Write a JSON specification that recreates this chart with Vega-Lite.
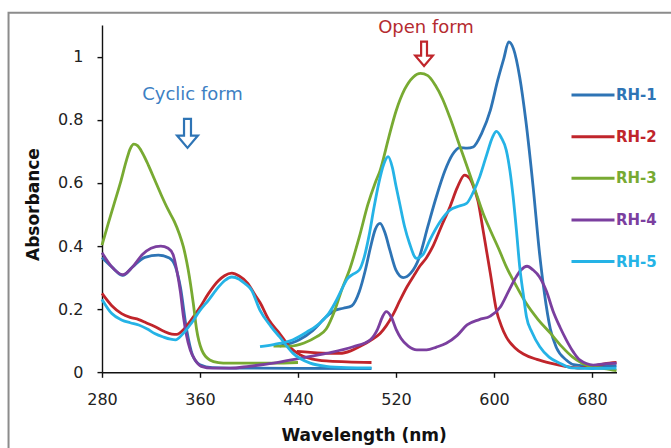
{
  "$schema": "https://vega.github.io/schema/vega-lite/v6.json",
  "width": 514.5,
  "height": 347.2,
  "autosize": {"type": "none"},
  "padding": {"left": 102, "top": 25.1, "right": 54.5, "bottom": 75.7},
  "background": "white",
  "config": {
    "view": {"stroke": null},
    "axis": {
      "grid": false,
      "domainColor": "#111",
      "domainWidth": 1.4,
      "tickColor": "#111",
      "tickWidth": 1.4,
      "tickSize": 5,
      "labelFlush": false,
      "labelFont": "DejaVu Sans",
      "labelFontSize": 16,
      "labelColor": "#222",
      "labelPadding": 14,
      "titleFont": "DejaVu Sans",
      "titleFontSize": 17,
      "titleFontWeight": "bold",
      "titleColor": "#111"
    }
  },
  "datasets": {
    "spectra": [
      {"series": "RH-1", "part": "a", "wl": 280, "abs": 0.364},
      {"series": "RH-1", "part": "a", "wl": 288, "abs": 0.334},
      {"series": "RH-1", "part": "a", "wl": 297, "abs": 0.307},
      {"series": "RH-1", "part": "a", "wl": 305, "abs": 0.334},
      {"series": "RH-1", "part": "a", "wl": 315, "abs": 0.364},
      {"series": "RH-1", "part": "a", "wl": 326, "abs": 0.371},
      {"series": "RH-1", "part": "a", "wl": 335, "abs": 0.362},
      {"series": "RH-1", "part": "a", "wl": 340, "abs": 0.334},
      {"series": "RH-1", "part": "a", "wl": 344, "abs": 0.27},
      {"series": "RH-1", "part": "a", "wl": 349, "abs": 0.137},
      {"series": "RH-1", "part": "a", "wl": 354, "abs": 0.053},
      {"series": "RH-1", "part": "a", "wl": 360, "abs": 0.024},
      {"series": "RH-1", "part": "a", "wl": 370, "abs": 0.015},
      {"series": "RH-1", "part": "a", "wl": 400, "abs": 0.013},
      {"series": "RH-1", "part": "a", "wl": 500, "abs": 0.012},
      {"series": "RH-1", "part": "b", "wl": 425, "abs": 0.083},
      {"series": "RH-1", "part": "b", "wl": 441, "abs": 0.103},
      {"series": "RH-1", "part": "b", "wl": 452, "abs": 0.132},
      {"series": "RH-1", "part": "b", "wl": 463, "abs": 0.176},
      {"series": "RH-1", "part": "b", "wl": 470, "abs": 0.196},
      {"series": "RH-1", "part": "b", "wl": 477, "abs": 0.203},
      {"series": "RH-1", "part": "b", "wl": 484, "abs": 0.211},
      {"series": "RH-1", "part": "b", "wl": 490, "abs": 0.255},
      {"series": "RH-1", "part": "b", "wl": 495, "abs": 0.324},
      {"series": "RH-1", "part": "b", "wl": 499, "abs": 0.393},
      {"series": "RH-1", "part": "b", "wl": 503, "abs": 0.452},
      {"series": "RH-1", "part": "b", "wl": 507, "abs": 0.472},
      {"series": "RH-1", "part": "b", "wl": 511, "abs": 0.442},
      {"series": "RH-1", "part": "b", "wl": 515, "abs": 0.387},
      {"series": "RH-1", "part": "b", "wl": 520, "abs": 0.324},
      {"series": "RH-1", "part": "b", "wl": 526, "abs": 0.3},
      {"series": "RH-1", "part": "b", "wl": 532, "abs": 0.314},
      {"series": "RH-1", "part": "b", "wl": 539, "abs": 0.364},
      {"series": "RH-1", "part": "b", "wl": 546, "abs": 0.462},
      {"series": "RH-1", "part": "b", "wl": 553, "abs": 0.557},
      {"series": "RH-1", "part": "b", "wl": 560, "abs": 0.639},
      {"series": "RH-1", "part": "b", "wl": 566, "abs": 0.689},
      {"series": "RH-1", "part": "b", "wl": 572, "abs": 0.712},
      {"series": "RH-1", "part": "b", "wl": 578, "abs": 0.71},
      {"series": "RH-1", "part": "b", "wl": 583, "abs": 0.714},
      {"series": "RH-1", "part": "b", "wl": 590, "abs": 0.758},
      {"series": "RH-1", "part": "b", "wl": 597, "abs": 0.83},
      {"series": "RH-1", "part": "b", "wl": 603, "abs": 0.925},
      {"series": "RH-1", "part": "b", "wl": 608, "abs": 0.994},
      {"series": "RH-1", "part": "b", "wl": 612, "abs": 1.047},
      {"series": "RH-1", "part": "b", "wl": 616, "abs": 1.024},
      {"series": "RH-1", "part": "b", "wl": 621, "abs": 0.935},
      {"series": "RH-1", "part": "b", "wl": 626, "abs": 0.797},
      {"series": "RH-1", "part": "b", "wl": 632, "abs": 0.585},
      {"series": "RH-1", "part": "b", "wl": 637, "abs": 0.383},
      {"series": "RH-1", "part": "b", "wl": 641, "abs": 0.255},
      {"series": "RH-1", "part": "b", "wl": 646, "abs": 0.137},
      {"series": "RH-1", "part": "b", "wl": 651, "abs": 0.078},
      {"series": "RH-1", "part": "b", "wl": 659, "abs": 0.039},
      {"series": "RH-1", "part": "b", "wl": 665, "abs": 0.024},
      {"series": "RH-1", "part": "b", "wl": 680, "abs": 0.019},
      {"series": "RH-1", "part": "b", "wl": 700, "abs": 0.021},

      {"series": "RH-2", "part": "a", "wl": 280, "abs": 0.25},
      {"series": "RH-2", "part": "a", "wl": 288, "abs": 0.211},
      {"series": "RH-2", "part": "a", "wl": 296, "abs": 0.186},
      {"series": "RH-2", "part": "a", "wl": 303, "abs": 0.174},
      {"series": "RH-2", "part": "a", "wl": 310, "abs": 0.167},
      {"series": "RH-2", "part": "a", "wl": 316, "abs": 0.157},
      {"series": "RH-2", "part": "a", "wl": 323, "abs": 0.145},
      {"series": "RH-2", "part": "a", "wl": 330, "abs": 0.131},
      {"series": "RH-2", "part": "a", "wl": 337, "abs": 0.121},
      {"series": "RH-2", "part": "a", "wl": 341, "abs": 0.12},
      {"series": "RH-2", "part": "a", "wl": 347, "abs": 0.137},
      {"series": "RH-2", "part": "a", "wl": 353, "abs": 0.167},
      {"series": "RH-2", "part": "a", "wl": 360, "abs": 0.206},
      {"series": "RH-2", "part": "a", "wl": 367, "abs": 0.25},
      {"series": "RH-2", "part": "a", "wl": 375, "abs": 0.29},
      {"series": "RH-2", "part": "a", "wl": 380, "abs": 0.306},
      {"series": "RH-2", "part": "a", "wl": 386, "abs": 0.314},
      {"series": "RH-2", "part": "a", "wl": 392, "abs": 0.305},
      {"series": "RH-2", "part": "a", "wl": 399, "abs": 0.282},
      {"series": "RH-2", "part": "a", "wl": 405, "abs": 0.245},
      {"series": "RH-2", "part": "a", "wl": 409, "abs": 0.221},
      {"series": "RH-2", "part": "a", "wl": 416, "abs": 0.167},
      {"series": "RH-2", "part": "a", "wl": 425, "abs": 0.123},
      {"series": "RH-2", "part": "a", "wl": 433, "abs": 0.081},
      {"series": "RH-2", "part": "a", "wl": 442, "abs": 0.055},
      {"series": "RH-2", "part": "a", "wl": 452, "abs": 0.042},
      {"series": "RH-2", "part": "a", "wl": 463, "abs": 0.036},
      {"series": "RH-2", "part": "a", "wl": 480, "abs": 0.033},
      {"series": "RH-2", "part": "a", "wl": 500, "abs": 0.031},
      {"series": "RH-2", "part": "b", "wl": 439, "abs": 0.066},
      {"series": "RH-2", "part": "b", "wl": 450, "abs": 0.063},
      {"series": "RH-2", "part": "b", "wl": 460, "abs": 0.061},
      {"series": "RH-2", "part": "b", "wl": 474, "abs": 0.06},
      {"series": "RH-2", "part": "b", "wl": 483, "abs": 0.068},
      {"series": "RH-2", "part": "b", "wl": 490, "abs": 0.081},
      {"series": "RH-2", "part": "b", "wl": 500, "abs": 0.103},
      {"series": "RH-2", "part": "b", "wl": 507, "abs": 0.123},
      {"series": "RH-2", "part": "b", "wl": 512, "abs": 0.147},
      {"series": "RH-2", "part": "b", "wl": 518, "abs": 0.186},
      {"series": "RH-2", "part": "b", "wl": 523, "abs": 0.226},
      {"series": "RH-2", "part": "b", "wl": 529, "abs": 0.271},
      {"series": "RH-2", "part": "b", "wl": 535, "abs": 0.309},
      {"series": "RH-2", "part": "b", "wl": 540, "abs": 0.339},
      {"series": "RH-2", "part": "b", "wl": 545, "abs": 0.364},
      {"series": "RH-2", "part": "b", "wl": 550, "abs": 0.398},
      {"series": "RH-2", "part": "b", "wl": 557, "abs": 0.462},
      {"series": "RH-2", "part": "b", "wl": 564, "abs": 0.524},
      {"series": "RH-2", "part": "b", "wl": 570, "abs": 0.585},
      {"series": "RH-2", "part": "b", "wl": 576, "abs": 0.625},
      {"series": "RH-2", "part": "b", "wl": 580, "abs": 0.615},
      {"series": "RH-2", "part": "b", "wl": 584, "abs": 0.58},
      {"series": "RH-2", "part": "b", "wl": 587, "abs": 0.541},
      {"series": "RH-2", "part": "b", "wl": 591, "abs": 0.452},
      {"series": "RH-2", "part": "b", "wl": 594, "abs": 0.383},
      {"series": "RH-2", "part": "b", "wl": 597, "abs": 0.314},
      {"series": "RH-2", "part": "b", "wl": 602, "abs": 0.196},
      {"series": "RH-2", "part": "b", "wl": 606, "abs": 0.147},
      {"series": "RH-2", "part": "b", "wl": 610, "abs": 0.112},
      {"series": "RH-2", "part": "b", "wl": 617, "abs": 0.078},
      {"series": "RH-2", "part": "b", "wl": 624, "abs": 0.058},
      {"series": "RH-2", "part": "b", "wl": 635, "abs": 0.041},
      {"series": "RH-2", "part": "b", "wl": 646, "abs": 0.029},
      {"series": "RH-2", "part": "b", "wl": 658, "abs": 0.019},
      {"series": "RH-2", "part": "b", "wl": 670, "abs": 0.013},
      {"series": "RH-2", "part": "b", "wl": 680, "abs": 0.019},
      {"series": "RH-2", "part": "b", "wl": 690, "abs": 0.027},
      {"series": "RH-2", "part": "b", "wl": 700, "abs": 0.031},

      {"series": "RH-3", "part": "a", "wl": 280, "abs": 0.403},
      {"series": "RH-3", "part": "a", "wl": 285, "abs": 0.47},
      {"series": "RH-3", "part": "a", "wl": 290, "abs": 0.535},
      {"series": "RH-3", "part": "a", "wl": 295, "abs": 0.6},
      {"series": "RH-3", "part": "a", "wl": 300, "abs": 0.672},
      {"series": "RH-3", "part": "a", "wl": 303, "abs": 0.708},
      {"series": "RH-3", "part": "a", "wl": 306, "abs": 0.723},
      {"series": "RH-3", "part": "a", "wl": 309, "abs": 0.718},
      {"series": "RH-3", "part": "a", "wl": 313, "abs": 0.695},
      {"series": "RH-3", "part": "a", "wl": 318, "abs": 0.655},
      {"series": "RH-3", "part": "a", "wl": 323, "abs": 0.61},
      {"series": "RH-3", "part": "a", "wl": 328, "abs": 0.565},
      {"series": "RH-3", "part": "a", "wl": 334, "abs": 0.515},
      {"series": "RH-3", "part": "a", "wl": 339, "abs": 0.478},
      {"series": "RH-3", "part": "a", "wl": 343, "abs": 0.44},
      {"series": "RH-3", "part": "a", "wl": 346.4, "abs": 0.398},
      {"series": "RH-3", "part": "a", "wl": 350.4, "abs": 0.324},
      {"series": "RH-3", "part": "a", "wl": 354.5, "abs": 0.219},
      {"series": "RH-3", "part": "a", "wl": 357.3, "abs": 0.134},
      {"series": "RH-3", "part": "a", "wl": 361.4, "abs": 0.071},
      {"series": "RH-3", "part": "a", "wl": 368, "abs": 0.039},
      {"series": "RH-3", "part": "a", "wl": 375, "abs": 0.031},
      {"series": "RH-3", "part": "a", "wl": 383, "abs": 0.029},
      {"series": "RH-3", "part": "a", "wl": 420, "abs": 0.029},
      {"series": "RH-3", "part": "a", "wl": 440, "abs": 0.031},
      {"series": "RH-3", "part": "b", "wl": 420, "abs": 0.083},
      {"series": "RH-3", "part": "b", "wl": 433, "abs": 0.083},
      {"series": "RH-3", "part": "b", "wl": 445, "abs": 0.093},
      {"series": "RH-3", "part": "b", "wl": 455, "abs": 0.112},
      {"series": "RH-3", "part": "b", "wl": 463, "abs": 0.137},
      {"series": "RH-3", "part": "b", "wl": 470, "abs": 0.196},
      {"series": "RH-3", "part": "b", "wl": 476, "abs": 0.265},
      {"series": "RH-3", "part": "b", "wl": 482, "abs": 0.324},
      {"series": "RH-3", "part": "b", "wl": 490, "abs": 0.428},
      {"series": "RH-3", "part": "b", "wl": 497, "abs": 0.531},
      {"series": "RH-3", "part": "b", "wl": 503, "abs": 0.6},
      {"series": "RH-3", "part": "b", "wl": 507, "abs": 0.639},
      {"series": "RH-3", "part": "b", "wl": 514, "abs": 0.743},
      {"series": "RH-3", "part": "b", "wl": 520, "abs": 0.827},
      {"series": "RH-3", "part": "b", "wl": 527, "abs": 0.896},
      {"series": "RH-3", "part": "b", "wl": 534, "abs": 0.935},
      {"series": "RH-3", "part": "b", "wl": 540, "abs": 0.947},
      {"series": "RH-3", "part": "b", "wl": 546, "abs": 0.94},
      {"series": "RH-3", "part": "b", "wl": 552, "abs": 0.91},
      {"series": "RH-3", "part": "b", "wl": 558, "abs": 0.866},
      {"series": "RH-3", "part": "b", "wl": 564, "abs": 0.807},
      {"series": "RH-3", "part": "b", "wl": 572, "abs": 0.718},
      {"series": "RH-3", "part": "b", "wl": 580, "abs": 0.63},
      {"series": "RH-3", "part": "b", "wl": 586, "abs": 0.561},
      {"series": "RH-3", "part": "b", "wl": 591, "abs": 0.505},
      {"series": "RH-3", "part": "b", "wl": 597, "abs": 0.45},
      {"series": "RH-3", "part": "b", "wl": 604, "abs": 0.39},
      {"series": "RH-3", "part": "b", "wl": 610, "abs": 0.335},
      {"series": "RH-3", "part": "b", "wl": 618, "abs": 0.275},
      {"series": "RH-3", "part": "b", "wl": 626, "abs": 0.22},
      {"series": "RH-3", "part": "b", "wl": 636, "abs": 0.167},
      {"series": "RH-3", "part": "b", "wl": 646, "abs": 0.124},
      {"series": "RH-3", "part": "b", "wl": 655, "abs": 0.083},
      {"series": "RH-3", "part": "b", "wl": 664, "abs": 0.049},
      {"series": "RH-3", "part": "b", "wl": 672, "abs": 0.029},
      {"series": "RH-3", "part": "b", "wl": 680, "abs": 0.017},
      {"series": "RH-3", "part": "b", "wl": 690, "abs": 0.012},
      {"series": "RH-3", "part": "b", "wl": 700, "abs": 0.005},

      {"series": "RH-4", "part": "a", "wl": 280, "abs": 0.379},
      {"series": "RH-4", "part": "a", "wl": 288, "abs": 0.334},
      {"series": "RH-4", "part": "a", "wl": 297, "abs": 0.309},
      {"series": "RH-4", "part": "a", "wl": 305, "abs": 0.334},
      {"series": "RH-4", "part": "a", "wl": 313, "abs": 0.373},
      {"series": "RH-4", "part": "a", "wl": 320, "abs": 0.393},
      {"series": "RH-4", "part": "a", "wl": 328, "abs": 0.4},
      {"series": "RH-4", "part": "a", "wl": 334, "abs": 0.393},
      {"series": "RH-4", "part": "a", "wl": 338, "abs": 0.373},
      {"series": "RH-4", "part": "a", "wl": 341, "abs": 0.324},
      {"series": "RH-4", "part": "a", "wl": 344, "abs": 0.255},
      {"series": "RH-4", "part": "a", "wl": 346.5, "abs": 0.176},
      {"series": "RH-4", "part": "a", "wl": 349, "abs": 0.117},
      {"series": "RH-4", "part": "a", "wl": 352, "abs": 0.071},
      {"series": "RH-4", "part": "a", "wl": 356, "abs": 0.039},
      {"series": "RH-4", "part": "a", "wl": 361, "abs": 0.019},
      {"series": "RH-4", "part": "a", "wl": 370, "abs": 0.013},
      {"series": "RH-4", "part": "a", "wl": 385, "abs": 0.013},
      {"series": "RH-4", "part": "a", "wl": 400, "abs": 0.019},
      {"series": "RH-4", "part": "a", "wl": 420, "abs": 0.029},
      {"series": "RH-4", "part": "a", "wl": 441, "abs": 0.044},
      {"series": "RH-4", "part": "a", "wl": 463, "abs": 0.06},
      {"series": "RH-4", "part": "a", "wl": 485, "abs": 0.081},
      {"series": "RH-4", "part": "a", "wl": 499, "abs": 0.103},
      {"series": "RH-4", "part": "a", "wl": 505, "abs": 0.137},
      {"series": "RH-4", "part": "a", "wl": 509, "abs": 0.176},
      {"series": "RH-4", "part": "a", "wl": 512, "abs": 0.192},
      {"series": "RH-4", "part": "a", "wl": 516, "abs": 0.176},
      {"series": "RH-4", "part": "a", "wl": 520, "abs": 0.137},
      {"series": "RH-4", "part": "a", "wl": 524, "abs": 0.108},
      {"series": "RH-4", "part": "a", "wl": 530, "abs": 0.083},
      {"series": "RH-4", "part": "a", "wl": 537, "abs": 0.071},
      {"series": "RH-4", "part": "a", "wl": 545, "abs": 0.071},
      {"series": "RH-4", "part": "a", "wl": 553, "abs": 0.08},
      {"series": "RH-4", "part": "a", "wl": 561, "abs": 0.092},
      {"series": "RH-4", "part": "a", "wl": 570, "abs": 0.117},
      {"series": "RH-4", "part": "a", "wl": 578, "abs": 0.15},
      {"series": "RH-4", "part": "a", "wl": 588, "abs": 0.167},
      {"series": "RH-4", "part": "a", "wl": 597, "abs": 0.178},
      {"series": "RH-4", "part": "a", "wl": 605, "abs": 0.206},
      {"series": "RH-4", "part": "a", "wl": 611, "abs": 0.25},
      {"series": "RH-4", "part": "a", "wl": 617, "abs": 0.295},
      {"series": "RH-4", "part": "a", "wl": 622, "abs": 0.324},
      {"series": "RH-4", "part": "a", "wl": 627, "abs": 0.336},
      {"series": "RH-4", "part": "a", "wl": 632, "abs": 0.324},
      {"series": "RH-4", "part": "a", "wl": 637, "abs": 0.303},
      {"series": "RH-4", "part": "a", "wl": 643, "abs": 0.255},
      {"series": "RH-4", "part": "a", "wl": 648, "abs": 0.196},
      {"series": "RH-4", "part": "a", "wl": 654, "abs": 0.142},
      {"series": "RH-4", "part": "a", "wl": 659, "abs": 0.103},
      {"series": "RH-4", "part": "a", "wl": 665, "abs": 0.063},
      {"series": "RH-4", "part": "a", "wl": 670, "abs": 0.039},
      {"series": "RH-4", "part": "a", "wl": 681, "abs": 0.023},
      {"series": "RH-4", "part": "a", "wl": 690, "abs": 0.027},
      {"series": "RH-4", "part": "a", "wl": 700, "abs": 0.029},

      {"series": "RH-5", "part": "a", "wl": 280, "abs": 0.231},
      {"series": "RH-5", "part": "a", "wl": 288, "abs": 0.186},
      {"series": "RH-5", "part": "a", "wl": 296, "abs": 0.166},
      {"series": "RH-5", "part": "a", "wl": 303, "abs": 0.157},
      {"series": "RH-5", "part": "a", "wl": 310, "abs": 0.15},
      {"series": "RH-5", "part": "a", "wl": 317, "abs": 0.137},
      {"series": "RH-5", "part": "a", "wl": 323, "abs": 0.123},
      {"series": "RH-5", "part": "a", "wl": 330, "abs": 0.112},
      {"series": "RH-5", "part": "a", "wl": 336, "abs": 0.105},
      {"series": "RH-5", "part": "a", "wl": 340, "abs": 0.103},
      {"series": "RH-5", "part": "a", "wl": 346, "abs": 0.122},
      {"series": "RH-5", "part": "a", "wl": 353, "abs": 0.156},
      {"series": "RH-5", "part": "a", "wl": 360, "abs": 0.196},
      {"series": "RH-5", "part": "a", "wl": 367, "abs": 0.229},
      {"series": "RH-5", "part": "a", "wl": 375, "abs": 0.27},
      {"series": "RH-5", "part": "a", "wl": 380, "abs": 0.29},
      {"series": "RH-5", "part": "a", "wl": 386, "abs": 0.302},
      {"series": "RH-5", "part": "a", "wl": 392, "abs": 0.295},
      {"series": "RH-5", "part": "a", "wl": 397, "abs": 0.28},
      {"series": "RH-5", "part": "a", "wl": 402, "abs": 0.261},
      {"series": "RH-5", "part": "a", "wl": 409, "abs": 0.196},
      {"series": "RH-5", "part": "a", "wl": 418, "abs": 0.145},
      {"series": "RH-5", "part": "a", "wl": 425, "abs": 0.112},
      {"series": "RH-5", "part": "a", "wl": 436, "abs": 0.06},
      {"series": "RH-5", "part": "a", "wl": 450, "abs": 0.029},
      {"series": "RH-5", "part": "a", "wl": 463, "abs": 0.019},
      {"series": "RH-5", "part": "a", "wl": 480, "abs": 0.015},
      {"series": "RH-5", "part": "a", "wl": 500, "abs": 0.014},
      {"series": "RH-5", "part": "b", "wl": 409, "abs": 0.081},
      {"series": "RH-5", "part": "b", "wl": 420, "abs": 0.088},
      {"series": "RH-5", "part": "b", "wl": 436, "abs": 0.103},
      {"series": "RH-5", "part": "b", "wl": 447, "abs": 0.127},
      {"series": "RH-5", "part": "b", "wl": 458, "abs": 0.156},
      {"series": "RH-5", "part": "b", "wl": 465, "abs": 0.186},
      {"series": "RH-5", "part": "b", "wl": 471.5, "abs": 0.229},
      {"series": "RH-5", "part": "b", "wl": 476, "abs": 0.265},
      {"series": "RH-5", "part": "b", "wl": 480, "abs": 0.295},
      {"series": "RH-5", "part": "b", "wl": 485, "abs": 0.311},
      {"series": "RH-5", "part": "b", "wl": 490, "abs": 0.324},
      {"series": "RH-5", "part": "b", "wl": 494, "abs": 0.364},
      {"series": "RH-5", "part": "b", "wl": 498, "abs": 0.433},
      {"series": "RH-5", "part": "b", "wl": 502, "abs": 0.521},
      {"series": "RH-5", "part": "b", "wl": 506, "abs": 0.6},
      {"series": "RH-5", "part": "b", "wl": 510, "abs": 0.659},
      {"series": "RH-5", "part": "b", "wl": 513.6, "abs": 0.683},
      {"series": "RH-5", "part": "b", "wl": 517, "abs": 0.649},
      {"series": "RH-5", "part": "b", "wl": 520, "abs": 0.59},
      {"series": "RH-5", "part": "b", "wl": 523, "abs": 0.535},
      {"series": "RH-5", "part": "b", "wl": 527, "abs": 0.462},
      {"series": "RH-5", "part": "b", "wl": 531, "abs": 0.409},
      {"series": "RH-5", "part": "b", "wl": 536.8, "abs": 0.361},
      {"series": "RH-5", "part": "b", "wl": 542, "abs": 0.373},
      {"series": "RH-5", "part": "b", "wl": 547.6, "abs": 0.419},
      {"series": "RH-5", "part": "b", "wl": 556, "abs": 0.477},
      {"series": "RH-5", "part": "b", "wl": 564, "abs": 0.514},
      {"series": "RH-5", "part": "b", "wl": 571, "abs": 0.526},
      {"series": "RH-5", "part": "b", "wl": 577.6, "abs": 0.535},
      {"series": "RH-5", "part": "b", "wl": 583, "abs": 0.57},
      {"series": "RH-5", "part": "b", "wl": 588.4, "abs": 0.62},
      {"series": "RH-5", "part": "b", "wl": 594, "abs": 0.689},
      {"series": "RH-5", "part": "b", "wl": 599, "abs": 0.747},
      {"series": "RH-5", "part": "b", "wl": 602, "abs": 0.763},
      {"series": "RH-5", "part": "b", "wl": 606, "abs": 0.743},
      {"series": "RH-5", "part": "b", "wl": 610, "abs": 0.704},
      {"series": "RH-5", "part": "b", "wl": 613, "abs": 0.639},
      {"series": "RH-5", "part": "b", "wl": 615.6, "abs": 0.557},
      {"series": "RH-5", "part": "b", "wl": 618.5, "abs": 0.442},
      {"series": "RH-5", "part": "b", "wl": 621, "abs": 0.334},
      {"series": "RH-5", "part": "b", "wl": 624, "abs": 0.245},
      {"series": "RH-5", "part": "b", "wl": 626.5, "abs": 0.176},
      {"series": "RH-5", "part": "b", "wl": 631, "abs": 0.127},
      {"series": "RH-5", "part": "b", "wl": 637.4, "abs": 0.081},
      {"series": "RH-5", "part": "b", "wl": 645, "abs": 0.048},
      {"series": "RH-5", "part": "b", "wl": 653.7, "abs": 0.029},
      {"series": "RH-5", "part": "b", "wl": 663, "abs": 0.014},
      {"series": "RH-5", "part": "b", "wl": 680, "abs": 0.012},
      {"series": "RH-5", "part": "b", "wl": 700, "abs": 0.013}
    ],
    "cyclicLabel": [{"text": "Cyclic form", "wl": 353.9, "abs": 0.863}],
    "cyclicArrow": [{"wl": 349.8, "abs": 0.757}],
    "openLabel": [{"text": "Open form", "wl": 544.5, "abs": 1.076}],
    "openArrow": [{"wl": 542.9, "abs": 1.009}]
  },
  "layer": [
    {
      "data": {"values": [{}]},
      "mark": {"type": "rect", "filled": false, "stroke": "#8c8c8c", "strokeWidth": 2, "clip": false},
      "encoding": {
        "x": {"datum": 203.7, "type": "quantitative", "scale": {"domain": [280, 700]}},
        "x2": {"datum": 800},
        "y": {"datum": 1.139, "type": "quantitative", "scale": {"domain": [0, 1.1]}},
        "y2": {"datum": -0.5}
      }
    },
    {
      "data": {"name": "spectra"},
      "mark": {"type": "line", "interpolate": "monotone", "strokeWidth": 2.8},
      "encoding": {
        "x": {
          "field": "wl", "type": "quantitative",
          "scale": {"domain": [280, 700], "nice": false, "zero": false},
          "axis": {
            "values": [280, 360, 440, 520, 600, 680],
            "title": "Wavelength (nm)",
            "titleX": 261.6, "titleY": 68,
            "titleBaseline": "alphabetic", "titleAlign": "center", "titleAnchor": null
          }
        },
        "y": {
          "field": "abs", "type": "quantitative",
          "scale": {"domain": [0, 1.1], "nice": false},
          "axis": {
            "values": [0, 0.2, 0.4, 0.6, 0.8, 1],
            "format": "~g",
            "title": "Absorbance",
            "titleX": -64, "titleY": 179,
            "titleBaseline": "alphabetic", "titleAlign": "center", "titleAnchor": null
          }
        },
        "color": {
          "field": "series", "type": "nominal",
          "scale": {
            "domain": ["RH-1", "RH-2", "RH-3", "RH-4", "RH-5"],
            "range": ["#2e74b5", "#c0252b", "#78aa32", "#7b3f9f", "#25b3e6"]
          },
          "legend": {
            "title": null,
            "orient": "none",
            "legendX": 468,
            "legendY": 47,
            "padding": 0,
            "symbolType": "stroke",
            "symbolSize": 1849,
            "symbolStrokeWidth": 3,
            "labelFont": "DejaVu Sans",
            "labelFontWeight": "bold",
            "labelFontSize": 15,
            "labelOffset": 0,
            "labelLimit": 0,
            "rowPadding": 10.6,
            "encode": {"labels": {"update": {"fill": {"scale": "color", "field": "value"}}}}
          }
        },
        "detail": {"field": "part"}
      }
    },
    {
      "data": {"name": "cyclicLabel"},
      "mark": {"type": "text", "font": "DejaVu Sans", "fontSize": 18, "color": "#3d80c3", "baseline": "alphabetic", "align": "center"},
      "encoding": {
        "x": {"field": "wl", "type": "quantitative"},
        "y": {"field": "abs", "type": "quantitative"},
        "text": {"field": "text"}
      }
    },
    {
      "data": {"name": "cyclicArrow"},
      "mark": {
        "type": "point", "filled": true, "fill": "white", "stroke": "#2e74b5", "strokeWidth": 2.2, "opacity": 1,
        "shape": "M-0.24,-1L0.24,-1L0.24,0.15L0.72,0.15L0,1L-0.72,0.15L-0.24,0.15Z",
        "size": 841
      },
      "encoding": {
        "x": {"field": "wl", "type": "quantitative"},
        "y": {"field": "abs", "type": "quantitative"}
      }
    },
    {
      "data": {"name": "openLabel"},
      "mark": {"type": "text", "font": "DejaVu Sans", "fontSize": 18, "color": "#b52b30", "baseline": "alphabetic", "align": "center"},
      "encoding": {
        "x": {"field": "wl", "type": "quantitative"},
        "y": {"field": "abs", "type": "quantitative"},
        "text": {"field": "text"}
      }
    },
    {
      "data": {"name": "openArrow"},
      "mark": {
        "type": "point", "filled": true, "fill": "white", "stroke": "#c0252b", "strokeWidth": 2.2, "opacity": 1,
        "shape": "M-0.24,-1L0.24,-1L0.24,0.15L0.72,0.15L0,1L-0.72,0.15L-0.24,0.15Z",
        "size": 600
      },
      "encoding": {
        "x": {"field": "wl", "type": "quantitative"},
        "y": {"field": "abs", "type": "quantitative"}
      }
    }
  ]
}
